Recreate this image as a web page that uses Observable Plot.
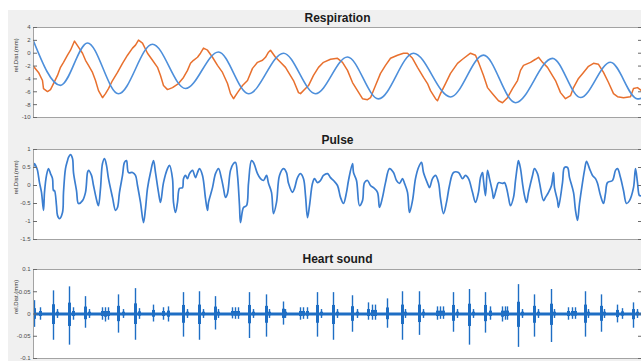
<!DOCTYPE html>
<html>
<head>
<meta charset="utf-8">
<script src="https://cdn.jsdelivr.net/npm/d3@7"></script>
<script src="https://cdn.jsdelivr.net/npm/@observablehq/plot@0.6"></script>
<style>
  html, body { margin: 0; padding: 0; background: #ffffff; }
  #wrap { position: relative; width: 641px; height: 361px; overflow: hidden; background: #ffffff; }
  #bg { position: absolute; left: 8px; top: 10px; right: 0; bottom: 0; background: #f0f0f0; }
  .pnl { position: absolute; left: 0; }
</style>
</head>
<body>
<div id="wrap"><div id="bg"></div></div>
<script>
// ---------- data (x = sample index, y = rel. distance) ----------
const titles = ["Respiration", "Pulse", "Heart sound"];
const yLabel = "rel.Dist.(mm)";
const xDomain = [0, 608];

const respTicks = [-10, -8, -6, -4, -2, 0, 2, 4];
const pulseTicks = [-1.5, -1, -0.5, 0, 0.5, 1];
const heartTicks = [-0.1, -0.05, 0, 0.05, 0.1];

// Respiration – blue (reference), extrema
const respBlue = [[0,1.9],[27,-5.0],[54,1.6],[85,-6.3],[119,1.4],[152,-5.5],[185,0.2],[215,-6.3],[250,0],[282,-6.3],[314,-0.6],[345,-7.1],[380,0],[417,-6.8],[450,-0.3],[482,-7.7],[519,-0.8],[547,-6.9],[577,-1.4],[604,-7.1],[608,-7.0]];

// Respiration – orange (measured)
const respOrange = [[0,-2.04],[5,-2.99],[9,-4.25],[10,-5.5],[14,-5.97],[17,-5.66],[20,-4.72],[24,-3.46],[27,-2.2],[30,-1.42],
[34,-0.31],[37,0.47],[41,1.89],[45,0.94],[49,0],[52,-1.1],[55,-1.89],[59,-2.99],[62,-4.25],[65,-5.82],
[69,-6.92],[72,-6.29],[75,-5.5],[79,-4.25],[84,-2.99],[89,-1.57],[94,-0.31],[99,0.79],[102,1.26],[105,2.04],
[109,1.57],[114,0],[119,-1.1],[124,-2.2],[127,-3.46],[130,-5.03],[134,-5.66],[139,-5.35],[142,-5.03],[145,-4.72],
[150,-3.77],[154,-2.67],[157,-1.57],[160,-1.1],[164,-0.63],[167,0],[170,0.79],[174,0.47],[179,-0.63],[184,-1.89],
[189,-2.99],[194,-4.72],[197,-6.29],[200,-7.08],[204,-6.13],[209,-5.03],[214,-4.25],[219,-2.36],[224,-1.42],[229,-1.1],
[232,-0.63],[235,0.16],[237,0.47],[242,-0.63],[247,-1.42],[252,-2.2],[255,-2.99],[260,-4.25],[265,-6.13],[267,-6.29],
[272,-5.5],[275,-5.03],[280,-3.46],[285,-2.2],[290,-1.42],[297,-0.94],[304,-0.79],[309,-1.42],[314,-2.67],[319,-4.56],
[324,-5.82],[329,-7.08],[334,-7.23],[337,-6.92],[342,-5.03],[347,-3.14],[352,-1.89],[357,-0.79],[364,-0.31],[370,0],
[374,0],[379,-0.79],[384,-2.2],[390,-3.77],[394,-4.72],[397,-5.82],[402,-7.08],[404,-7.39],[407,-6.29],[412,-4.72],
[417,-3.14],[424,-1.57],[429,-0.94],[437,0],[442,-0.31],[445,-1.42],[450,-3.46],[454,-5.35],[459,-6.29],[465,-7.39],
[469,-7.7],[474,-6.92],[479,-5.5],[484,-4.25],[487,-2.67],[490,-1.89],[497,-1.42],[502,-0.94],[505,-0.63],[509,-1.42],
[514,-2.2],[517,-2.99],[522,-4.25],[527,-6.13],[532,-7.08],[537,-6.6],[540,-5.35],[545,-3.93],[550,-2.99],[555,-2.04],
[560,-1.57],[565,-1.73],[570,-2.99],[575,-4.56],[580,-6.29],[584,-6.76],[590,-6.92],[597,-6.76],[600,-5.5],[604,-5.35],[608,-5.82]];

// Pulse (measured)
const pulse = [[0,0.5],[1,0.61],[3,0.5],[4,0.42],[6,0.08],[8,-0.19],[10,-0.69],[11,-0.19],[13,0.28],[15,0.47],
[17,0.33],[19,0.19],[20,-0.14],[21,-0.14],[23,-0.56],[24,-0.83],[26,-0.92],[29,-0.75],[30,-0.19],[32,0.47],
[34,0.69],[35,0.78],[37,0.86],[39,0.75],[40,0.36],[43,-0.14],[45,-0.5],[49,-0.42],[52,-0.19],[54,0.36],
[55,0.42],[58,0.28],[60,0],[64,-0.5],[65,-0.56],[67,-0.08],[69,0.61],[71,0.75],[73,0.56],[75,0.19],
[79,-0.33],[82,-0.69],[84,-0.61],[86,-0.19],[89,0.28],[91,0.64],[93,0.69],[95,0.36],[99,0.36],[102,0.28],
[104,0],[107,-0.47],[110,-1.03],[112,-0.64],[114,-0.08],[117,0.36],[120,0.69],[122,0.36],[125,-0.19],[127,-0.47],
[130,0.08],[134,0.47],[136,0.56],[139,0.19],[140,-0.47],[142,-0.75],[144,-0.47],[146,-0.08],[149,-0.06],[150,0.19],
[152,0.28],[154,0.19],[156,0.33],[159,0.42],[162,0.22],[164,0.36],[166,0.47],[169,0.28],[172,-0.36],[174,-0.69],
[175,-0.47],[179,-0.06],[182,0.33],[185,0.47],[188,0.19],[190,-0.08],[192,-0.33],[194,-0.22],[197,0.42],[200,0.61],
[202,0.64],[204,0.28],[206,-0.56],[207,-1.03],[210,-0.61],[213,-0.56],[215,0.06],[218,0.69],[220,0.64],[224,0.33],
[227,0.19],[230,0.14],[233,0.28],[235,0.06],[238,-0.19],[240,-0.78],[243,-0.47],[246,0.28],[250,0.47],[253,0.36],
[255,0.06],[259,-0.19],[261,-0.08],[264,0.22],[267,0.33],[270,0.19],[272,-0.28],[274,-0.89],[276,-0.56],[279,0.06],
[281,0.19],[284,0.08],[287,0.14],[290,0.28],[294,0.33],[297,0.22],[300,0.14],[304,0],[307,-0.33],[310,-0.5],
[313,-0.19],[315,0.14],[319,0.61],[320,0.36],[323,0.14],[326,-0.56],[329,-0.42],[331,0.08],[334,0.14],[337,0],
[340,-0.06],[344,-0.19],[346,-0.61],[349,-0.33],[352,0.08],[356,0.47],[360,0.36],[363,0.14],[366,0.06],[369,0.19],
[371,0.06],[374,-0.19],[376,-0.75],[379,-0.42],[382,0.19],[385,0.5],[388,0.64],[390,0.36],[394,0.06],[396,-0.06],
[399,0.19],[402,0.28],[405,0.08],[407,-0.36],[410,-0.78],[413,-0.47],[416,0],[420,0.36],[425,0.36],[429,0.19],
[432,0.28],[435,0.19],[439,-0.19],[442,-0.47],[445,-0.19],[447,0.22],[449,0.36],[450,0.14],[452,-0.28],[454,0.42],
[456,0.19],[459,-0.19],[460,-0.36],[463,-0.08],[465,0.08],[469,0.06],[471,0.08],[473,-0.06],[475,-0.33],[477,-0.56],
[480,-0.33],[482,0.14],[484,0.56],[485,0.69],[487,0.47],[489,0.06],[491,-0.28],[493,-0.47],[495,-0.19],[499,0.28],
[501,0.47],[504,0.33],[506,0.08],[510,-0.42],[512,-0.33],[515,-0.19],[518,0],[520,0.36],[521,-0.06],[524,-0.42],
[525,-0.61],[529,0.08],[531,0.5],[534,0.5],[536,0.22],[540,-0.19],[542,-0.69],[544,-0.97],[546,-0.5],[549,0.08],
[551,0.42],[553,0.67],[556,0.47],[559,0.28],[562,0.19],[564,0.06],[567,-0.28],[570,-0.5],[572,-0.22],[574,0.08],
[579,0.14],[582,0.42],[584,0.47],[587,0.22],[590,-0.14],[593,-0.5],[596,-0.42],[600,-0.06],[602,0.47],[604,0.08],
[606,-0.28],[608,-0.28]];

// Heart sound bursts: [sample, positive peak, negative peak]
const heartBursts = [[1,0.03,-0.03],[7,0.014,-0.014],[20,0.052,-0.059],[24,0.01,-0.01],[36,0.061,-0.07],[40,0.014,-0.014],
[52,0.039,-0.032],[56,0.01,-0.01],[69,0.014,-0.014],[72,0.014,-0.018],[75,0.014,-0.014],[85,0.043,-0.043],[90,0.01,-0.01],
[102,0.057,-0.059],[106,0.012,-0.012],[120,0.02,-0.018],[130,0.014,-0.014],[135,0.016,-0.018],[150,0.048,-0.052],
[154,0.01,-0.01],[166,0.05,-0.059],[170,0.01,-0.01],[182,0.039,-0.036],[185,0.01,-0.01],[199,0.014,-0.011],[202,0.014,-0.012],
[205,0.014,-0.012],[216,0.048,-0.055],[220,0.01,-0.01],[233,0.043,-0.052],[236,0.01,-0.01],[250,0.027,-0.025],[252,0.01,-0.01],
[267,0.014,-0.014],[270,0.014,-0.012],[274,0.014,-0.012],[284,0.048,-0.052],[288,0.01,-0.01],[300,0.048,-0.059],[304,0.01,-0.01],
[319,0.041,-0.041],[324,0.01,-0.01],[335,0.025,-0.014],[339,0.02,-0.014],[342,0.02,-0.014],[354,0.034,-0.032],[369,0.05,-0.059],
[372,0.01,-0.01],[386,0.05,-0.048],[390,0.01,-0.01],[404,0.016,-0.014],[407,0.016,-0.012],[410,0.016,-0.012],[420,0.048,-0.041],
[424,0.01,-0.01],[436,0.055,-0.07],[440,0.01,-0.01],[452,0.048,-0.043],[457,0.016,-0.014],[469,0.016,-0.018],[472,0.016,-0.014],
[474,0.016,-0.014],[485,0.066,-0.075],[489,0.01,-0.01],[501,0.043,-0.052],[505,0.01,-0.01],[518,0.055,-0.064],[521,0.01,-0.01],
[535,0.014,-0.014],[539,0.014,-0.012],[542,0.014,-0.012],[552,0.05,-0.052],[555,0.01,-0.01],[568,0.043,-0.041],[571,0.01,-0.01],
[584,0.02,-0.02],[589,0.012,-0.012],[600,0.025,-0.032],[604,0.01,-0.01]];

// ---------- colours ----------
const cBlueResp = "#4d8fdb";
const cOrange = "#e8702e";
const cPulse = "#3b7ed0";
const cHeart = "#1e6ec4";
const FONT = "'Liberation Sans', Arial, Helvetica, sans-serif";

function panel({top, height, mt, mb, domain, ticks, title, titleDy, marks}) {
  const chart = Plot.plot({
    width: 641, height,
    marginLeft: 33, marginRight: 0, marginTop: mt, marginBottom: mb,
    style: {background: "transparent", fontFamily: FONT, overflow: "visible"},
    x: {domain: xDomain, axis: null},
    y: {domain, axis: null},
    marks: [
      Plot.frame({fill: "white", stroke: null}),
      ...marks,
      Plot.frame({stroke: "#a3a3a3", strokeWidth: 1}),
      Plot.axisY({anchor: "left", ticks, tickSize: 4, dx: 4, tickPadding: 3,
        tickFormat: d => String(d), fontSize: 6, fill: "#4a4a4a", stroke: "#6a6a6a", label: null}),
      Plot.axisY({anchor: "right", ticks, tickSize: 4, dx: -4, tickFormat: () => "",
        stroke: "#6a6a6a", label: null}),
      Plot.text([title], {frameAnchor: "top", dy: titleDy, fontSize: 12, fontWeight: "bold", fill: "#1b1b1b", fontFamily: FONT}),
      Plot.text([yLabel], {frameAnchor: "left", rotate: -90, dx: -17, fontSize: 6, fill: "#333", fontFamily: FONT})
    ]
  });
  chart.classList.add("pnl");
  chart.style.top = top + "px";
  chart.style.position = "absolute";
  document.getElementById("wrap").appendChild(chart);
}

const toXY = a => a.map(([t, v]) => ({t, v}));
const heartRows = heartBursts.map(([t, hi, lo]) => ({t, hi, lo}));

panel({
  top: 0, height: 122, mt: 27, mb: 5, domain: [-10, 4], ticks: respTicks, title: titles[0], titleDy: -14,
  marks: [
    Plot.line(toXY(respOrange), {x: "t", y: "v", stroke: cOrange, strokeWidth: 1.5, curve: "linear", clip: true}),
    Plot.line(toXY(respBlue), {x: "t", y: "v", stroke: cBlueResp, strokeWidth: 1.6, curve: "monotone-x", clip: true})
  ]
});

panel({
  top: 122, height: 120, mt: 27, mb: 3, domain: [-1.5, 1], ticks: pulseTicks, title: titles[1], titleDy: -14,
  marks: [
    Plot.line(toXY(pulse), {x: "t", y: "v", stroke: cPulse, strokeWidth: 1.7, curve: "catmull-rom", clip: true})
  ]
});

panel({
  top: 242, height: 119, mt: 27, mb: 3, domain: [-0.1, 0.1], ticks: heartTicks, title: titles[2], titleDy: -15,
  marks: [
    Plot.ruleY([0], {stroke: cHeart, strokeWidth: 3}),
    Plot.ruleX(heartRows, {x: "t", y1: "lo", y2: "hi", stroke: cHeart, strokeWidth: 1.4, clip: true}),
    Plot.ruleX(heartRows, {x: "t", y1: d => d.lo * 0.4, y2: d => d.hi * 0.4, stroke: cHeart, strokeWidth: 3, clip: true})
  ]
});
</script>
</body>
</html>
